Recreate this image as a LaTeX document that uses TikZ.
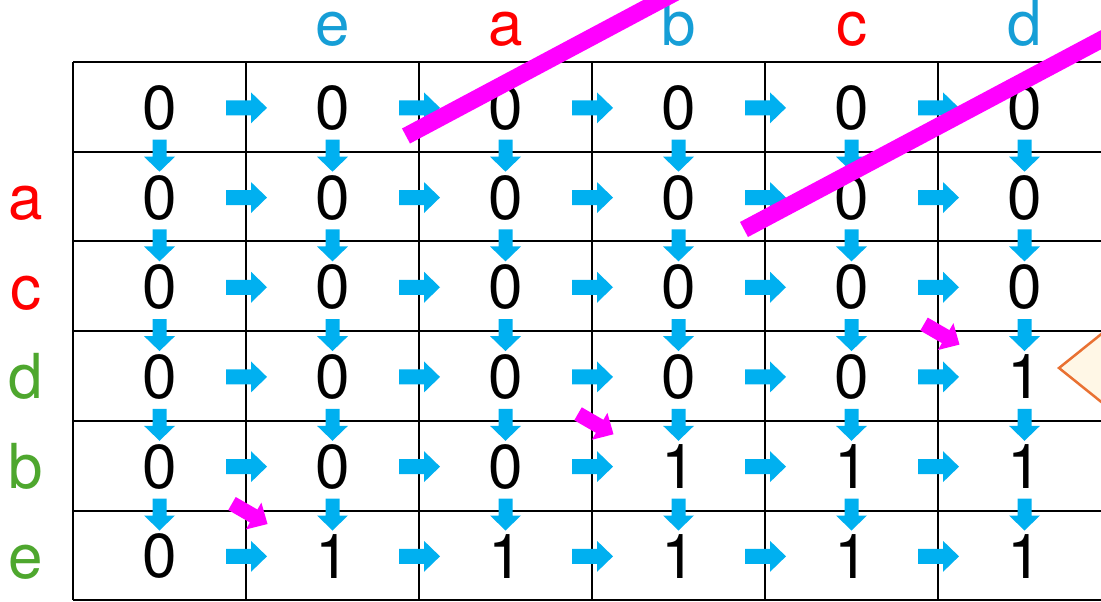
\documentclass[tikz,border=0pt]{standalone}
\usepackage{fontspec}
\setmainfont{TeX Gyre Heros}
\usetikzlibrary{calc}
\definecolor{arrblue}{RGB}{0,176,240}
\definecolor{lblblue}{RGB}{22,158,214}
\definecolor{lblred}{RGB}{255,0,0}
\definecolor{lblgreen}{RGB}{78,167,46}
\definecolor{mag}{RGB}{255,0,255}
\definecolor{tri}{RGB}{233,113,50}
\definecolor{trifill}{RGB}{255,247,230}
\begin{document}
\begin{tikzpicture}[x=1pt,y=-1pt,
  gridline/.style={line width=2pt, black},
  num/.style={font=\fontsize{62}{70}\selectfont, inner sep=0pt},
  lbl/.style={font=\fontsize{62}{70}\selectfont, inner sep=0pt, anchor=base},
  strike/.style={mag, line width=17pt},
  pics/rarr/.style={code={\fill[#1] (0,-7.5) -- (25,-7.5) -- (25,-15.5) -- (41,0) -- (25,15.5) -- (25,7.5) -- (0,7.5) -- cycle;}},
  pics/darr/.style={code={\fill[arrblue] (-7,0) -- (-7,17) -- (-15.5,17) -- (0,32) -- (15.5,17) -- (7,17) -- (7,0) -- cycle;}}
]
\useasboundingbox (0,0) rectangle (1101,602);
\clip (0,0) rectangle (1101,602);
% grid
\foreach \i in {0,...,6} \draw[gridline] (73,{62+89.7*\i}) -- (1110,{62+89.7*\i});
\foreach \j in {0,...,5} \draw[gridline] ({73+173*\j},62) -- ({73+173*\j},600.2);
% cell values
\foreach \row [count=\i from 0] in {{0,0,0,0,0,0},{0,0,0,0,0,0},{0,0,0,0,0,0},{0,0,0,0,0,1},{0,0,0,1,1,1},{0,1,1,1,1,1}}
  \foreach \v [count=\j from 0] in \row
    \node[num] (c-\i-\j) at ({159.5+173*\j},{107.85+89.7*\i}) {\v};
% top labels
\foreach \t/\c [count=\j from 1] in {e/lblblue,a/lblred,b/lblblue,c/lblred,d/lblblue}
  \node[lbl, text=\c] (top-\j) at ({159.5+173*\j},46) {\t};
% left labels
\foreach \t/\c [count=\i from 1] in {a/lblred,c/lblred,d/lblgreen,b/lblgreen,e/lblgreen}
  \node[lbl, text=\c] (left-\i) at (26,{129.85+89.7*\i}) {\t};
% blue right arrows
\foreach \i in {0,...,5}
  \foreach \j in {1,...,5}
    \pic at ({73+173*\j-20},{107.85+89.7*\i}) {rarr=arrblue};
% blue down arrows
\foreach \i in {1,...,5}
  \foreach \j in {0,...,5}
    \pic at ({159.5+173*\j},{62+89.7*\i-12}) {darr};
% magenta diagonal arrows
\foreach \cx/\cy in {938/331.1, 592/420.8, 246/510.5}
  \pic[rotate=-30] at ({\cx-14},{\cy-7}) {rarr=mag};
% magenta strike lines
\draw[strike] (406,136) -- (759,-52);
\draw[strike] (744,229.5) -- (1141,18.5);
% orange triangle
\draw[tri, fill=trifill, line width=2.5pt, line join=miter] (1059,368) -- (1130,311) -- (1130,425) -- cycle;
\end{tikzpicture}
\end{document}
